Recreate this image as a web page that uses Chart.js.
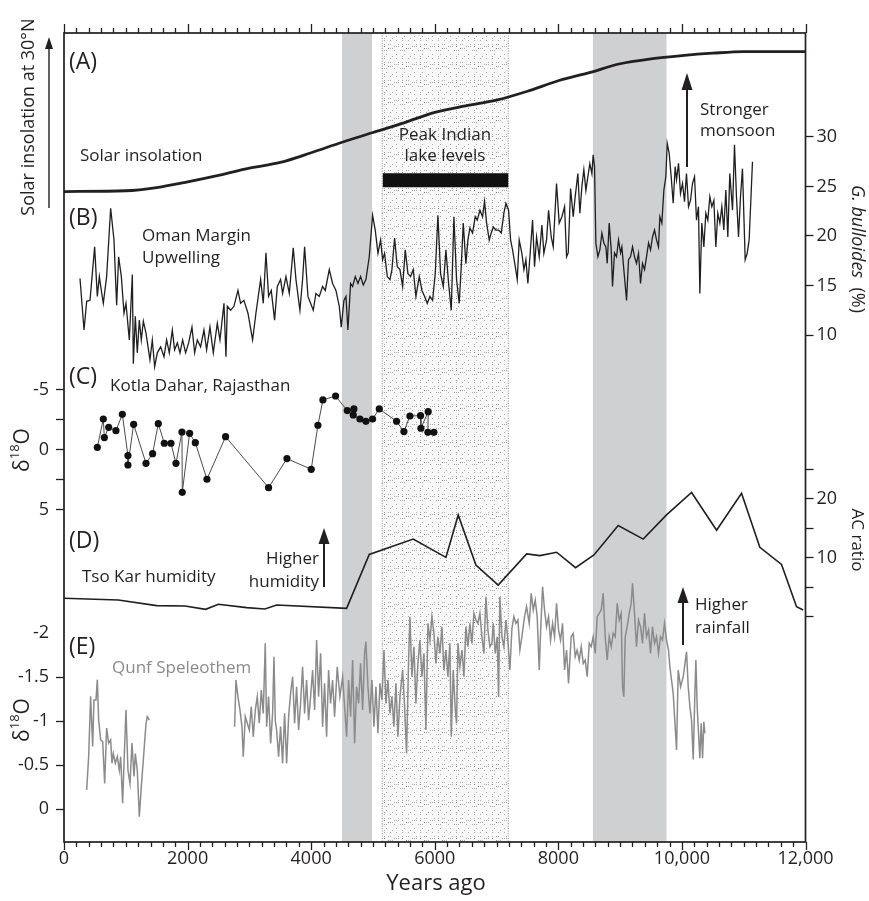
<!DOCTYPE html>
<html>
<head>
<meta charset="utf-8">
<title>Holocene monsoon records</title>
<script src="https://cdn.jsdelivr.net/npm/chart.js@4.4.1/dist/chart.umd.min.js"></script>
<style>
  html, body { margin: 0; padding: 0; background: #fff; }
  #wrap { width: 869px; height: 901px; }
</style>
</head>
<body>
<div id="wrap"><canvas id="holoceneChart" width="869" height="901"></canvas></div>
<script>
/* =================================================================
   Holocene monsoon records, stacked panels on one time axis
   ================================================================= */

const FONT = "'Open Sans', 'Noto Sans', sans-serif";
const INK = '#231f20';
const QUNF_GREY = '#8b8b8b';

// Time axis (years ago)
const xTickValues = [0, 2000, 4000, 6000, 8000, 10000, 12000];

// Shaded intervals
const grayBands = [[4500, 4985], [8560, 9750]];
const lakeBand = [5150, 7190];          // peak Indian lake levels (stippled)
const lakeBarYears = [5160, 7190];
const lakeBarLevel = 81.8;              // on the relative insolation scale

// (A) Solar insolation at 30°N, relative units
const insolation = [
    [0, 80.4], [1000, 80.5], [1500, 80.9], [2000, 81.6], [2500, 82.4], [3000, 83.3],
    [3500, 84.0], [4000, 85.2], [4500, 86.5], [5000, 87.7], [5500, 88.9], [6000, 90.2],
    [6500, 91.0], [7000, 91.7], [7500, 92.8], [8000, 94.1], [8500, 95.1], [9000, 96.2],
    [9500, 96.8], [10000, 97.2], [10500, 97.5], [11000, 97.7], [11500, 97.7], [12000, 97.7]
];

// (B) Oman Margin upwelling, G. bulloides (%)
const bulloides = [
    [259, 15.7], [324, 10.5], [367, 13.4], [421, 13.5], [496, 18.9], [539, 13.9], [572, 15.9],
    [604, 14.5], [636, 13.2], [690, 15.9], [755, 22.8], [809, 19.6], [852, 13.0], [884, 17.9],
    [928, 15.9], [971, 12.2], [1003, 13.2], [1057, 9.5], [1106, 16.1], [1122, 7.1], [1154, 11.9],
    [1186, 8.2], [1219, 11.5], [1251, 9.5], [1284, 11.4], [1327, 10.2], [1391, 7.5], [1429, 9.5],
    [1467, 6.8], [1510, 8.2], [1564, 8.8], [1618, 7.8], [1661, 9.5], [1704, 8.2], [1753, 10.5],
    [1790, 8.5], [1834, 9.2], [1877, 8.2], [1920, 9.5], [1968, 8.2], [2017, 9.2], [2071, 10.8],
    [2114, 8.2], [2157, 9.5], [2211, 8.8], [2265, 10.5], [2308, 8.5], [2362, 10.8], [2416, 8.2],
    [2481, 11.2], [2524, 9.5], [2589, 13.2], [2621, 7.8], [2643, 12.9], [2697, 12.5], [2750, 12.9],
    [2815, 14.5], [2858, 13.2], [2912, 13.5], [2977, 12.2], [3052, 9.5], [3106, 12.2], [3182, 15.6],
    [3225, 13.2], [3268, 18.3], [3311, 13.9], [3354, 14.5], [3408, 11.5], [3452, 14.9], [3505, 15.6],
    [3538, 14.2], [3592, 15.9], [3646, 14.2], [3710, 18.8], [3754, 15.6], [3818, 12.5], [3861, 15.6],
    [3894, 18.9], [3948, 13.9], [3991, 13.2], [4034, 12.5], [4077, 14.2], [4131, 13.9], [4185, 14.9],
    [4228, 14.5], [4293, 16.6], [4347, 15.2], [4401, 14.5], [4455, 12.9], [4487, 10.8], [4530, 13.5],
    [4563, 13.9], [4595, 10.5], [4638, 15.2], [4671, 14.9], [4714, 15.9], [4757, 15.2], [4800, 15.9],
    [4843, 15.05], [4886, 15.6], [4940, 17.9], [4994, 22.1], [5037, 20.6], [5081, 18.25], [5124, 19.6],
    [5156, 17.6], [5188, 18.25], [5232, 15.9], [5275, 15.6], [5307, 16.6], [5350, 19.8], [5393, 16.9],
    [5437, 16.6], [5480, 14.9], [5523, 18.6], [5566, 16.2], [5609, 15.9], [5652, 16.6], [5695, 13.9],
    [5749, 15.9], [5793, 14.5], [5836, 13.9], [5879, 13.2], [5922, 13.9], [5965, 13.5], [6008, 16.2],
    [6051, 22.1], [6094, 16.2], [6138, 14.9], [6181, 18.6], [6224, 15.2], [6267, 12.5], [6310, 21.95],
    [6353, 15.6], [6396, 13.2], [6429, 16.9], [6461, 21.3], [6504, 17.2], [6537, 19.6], [6569, 20.8],
    [6612, 20.3], [6655, 21.95], [6688, 21.6], [6731, 22.6], [6774, 21.95], [6806, 23.5], [6839, 21.3],
    [6882, 19.6], [6914, 20.3], [6947, 20.9], [6990, 20.6], [7033, 20.6], [7076, 20.3], [7119, 22.3],
    [7152, 23.3], [7195, 22.6], [7227, 19.6], [7259, 18.6], [7303, 16.9], [7335, 15.6], [7367, 19.6],
    [7410, 18.25], [7443, 16.6], [7475, 17.6], [7507, 15.2], [7540, 17.9], [7583, 21.6], [7615, 16.9],
    [7648, 19.9], [7691, 17.9], [7734, 21.1], [7766, 18.25], [7809, 19.6], [7842, 22.6], [7885, 19.9],
    [7917, 18.9], [7971, 25.3], [8014, 21.3], [8058, 21.95], [8101, 22.96], [8133, 17.9], [8160, 18.3],
    [8198, 24.8], [8241, 21.95], [8273, 23.97], [8316, 26.3], [8349, 22.3], [8381, 25.0], [8413, 26.7],
    [8446, 24.6], [8478, 26.0], [8510, 27.3], [8543, 26.3], [8564, 28.2], [8586, 27.0], [8607, 19.3],
    [8640, 17.9], [8672, 18.6], [8705, 20.3], [8737, 19.3], [8769, 18.9], [8791, 17.24], [8823, 21.3],
    [8856, 18.6], [8877, 14.9], [8909, 18.3], [8942, 17.9], [8974, 19.6], [9007, 18.3], [9028, 18.9],
    [9060, 16.6], [9104, 13.5], [9136, 17.6], [9168, 17.9], [9201, 18.9], [9233, 17.9], [9265, 17.24],
    [9298, 18.25], [9330, 15.2], [9362, 17.24], [9395, 16.6], [9427, 17.9], [9460, 19.3], [9492, 18.6],
    [9524, 19.9], [9557, 20.6], [9589, 19.6], [9621, 18.9], [9643, 21.95], [9675, 21.3], [9708, 24.65],
    [9740, 26.0], [9762, 29.36], [9794, 28.35], [9826, 26.0], [9859, 23.3], [9891, 27.0], [9913, 25.7],
    [9945, 27.34], [9977, 24.3], [10010, 25.3], [10042, 23.47], [10074, 26.3], [10107, 22.96],
    [10139, 23.6], [10171, 25.3], [10204, 26.0], [10236, 21.6], [10268, 22.96], [10290, 14.2],
    [10322, 21.3], [10355, 18.9], [10387, 22.3], [10419, 21.6], [10452, 23.97], [10484, 22.96],
    [10517, 23.6], [10549, 18.9], [10581, 22.3], [10614, 21.3], [10646, 22.96], [10678, 20.6],
    [10711, 24.65], [10743, 19.9], [10775, 26.3], [10819, 22.6], [10851, 29.2], [10883, 23.97],
    [10916, 19.9], [10948, 23.97], [10980, 26.8], [11024, 17.6], [11056, 18.25], [11088, 19.6],
    [11142, 27.5]
];

// (C) Kotla Dahar, Rajasthan, δ18O (‰)
const kotlaDahar = [
    [539, -0.22], [636, -2.58], [653, -1.03], [723, -1.89], [841, -1.61], [944, -2.97], [1035, 0.47],
    [1035, 1.25], [1127, -2.14], [1327, 1.11], [1434, 0.31], [1526, -2.19], [1623, -0.56], [1731, -0.56],
    [1812, 1.11], [1909, -1.5], [1914, 3.53], [2033, -1.39], [2125, -0.61], [2313, 2.44], [2615, -1.11],
    [3311, 3.14], [3608, 0.72], [4001, 1.61], [4109, -2.06], [4190, -4.17], [4395, -4.5], [4584, -3.28],
    [4692, -3.42], [4681, -2.92], [4789, -2.58], [4886, -2.39], [4994, -2.58], [5102, -3.42], [5382, -2.39],
    [5501, -1.53], [5598, -2.83], [5770, -2.86], [5776, -1.81], [5894, -3.19], [5889, -1.47], [5986, -1.47]
];

// (D) Tso Kar humidity, AC ratio
const tsoKar = [
    [0, 3.17], [879, 2.88], [1500, 1.92], [1958, 1.86], [2292, 1.3], [2497, 2.15], [2956, 1.58],
    [3252, 1.36], [3441, 2.03], [4574, 1.47], [4940, 10.6], [5652, 13.2], [6181, 10.1], [6380, 17.3],
    [6666, 8.8], [7027, 5.4], [7487, 10.7], [7702, 10.4], [7972, 10.97], [8279, 8.36], [8576, 10.5],
    [8969, 15.5], [9374, 13.2], [9751, 17.3], [10156, 21.1], [10561, 14.7], [10965, 20.97],
    [11261, 11.8], [11612, 8.9], [11855, 1.75], [11962, 1.19]
];

// (E) Qunf Cave speleothem, δ18O (‰) - two growth segments
const qunfEarly = [
    [367, -0.216], [399, -0.595], [431, -1.28], [464, -0.71], [485, -1.24], [518, -1.24], [539, -1.47],
    [561, -1.01], [593, -0.785], [626, -0.765], [658, -0.29], [690, -0.92], [723, -0.75], [755, -0.785],
    [777, -0.52], [798, -0.63], [831, -0.52], [863, -0.595], [895, -0.44], [917, -0.595], [949, -0.065],
    [971, -0.52], [1003, -1.125], [1035, -0.44], [1068, -0.29], [1100, -0.75], [1133, -0.37],
    [1154, -0.63], [1186, -0.44], [1219, 0.087], [1251, -0.254], [1284, -0.56], [1327, -0.97],
    [1348, -1.05], [1381, -1.01]
];
const qunfLate = [
    [2761, -0.936], [2783, -1.466], [2815, -1.277], [2848, -1.125], [2880, -0.936], [2901, -0.595],
    [2934, -1.05], [2966, -0.974], [2999, -0.898], [3031, -1.163], [3063, -0.822], [3096, -1.125],
    [3128, -1.277], [3160, -0.974], [3193, -1.352], [3225, -1.087], [3257, -1.883], [3279, -0.936],
    [3311, -1.277], [3344, -0.746], [3376, -1.087], [3398, -1.73], [3420, -1.0], [3441, -0.898],
    [3473, -0.595], [3505, -0.936], [3538, -0.519], [3570, -1.087], [3603, -0.519], [3635, -1.05],
    [3667, -1.314], [3700, -1.504], [3732, -0.974], [3764, -1.39], [3797, -0.898], [3829, -1.2],
    [3861, -1.617], [3894, -1.087], [3926, -1.466], [3958, -1.01], [3991, -1.277], [4023, -1.58],
    [4056, -1.125], [4088, -1.92], [4120, -1.277], [4153, -1.77], [4185, -0.936], [4217, -1.428],
    [4250, -0.822], [4282, -1.58], [4314, -1.2], [4347, -1.466], [4379, -1.05], [4422, -1.617],
    [4465, -1.277], [4509, -1.504], [4541, -1.163], [4574, -0.822], [4606, -1.466], [4638, -1.05],
    [4671, -1.693], [4703, -0.746], [4735, -1.39], [4768, -1.2], [4800, -1.655], [4833, -1.125],
    [4865, -1.769], [4886, -1.902], [4919, -1.39], [4951, -1.087], [4984, -1.466], [5016, -0.936],
    [5048, -1.39], [5081, -0.86], [5113, -1.428], [5145, -1.239], [5178, -1.807], [5210, -1.2],
    [5242, -1.466], [5275, -1.087], [5307, -1.277], [5339, -0.936], [5372, -1.428], [5404, -0.822],
    [5437, -1.277], [5480, -1.58], [5512, -1.163], [5544, -0.633], [5577, -1.693], [5598, -2.186],
    [5631, -1.504], [5663, -1.845], [5695, -1.2], [5728, -1.655], [5760, -1.92], [5792, -1.504],
    [5825, -1.769], [5857, -0.898], [5890, -2.11], [5922, -1.92], [5954, -2.186], [5987, -1.996],
    [6019, -1.655], [6051, -1.958], [6084, -1.769], [6116, -2.072], [6148, -1.58], [6181, -1.807],
    [6213, -1.504], [6245, -1.883], [6267, -0.822], [6299, -1.58], [6332, -1.125], [6353, -0.974],
    [6375, -1.883], [6407, -1.617], [6440, -1.807], [6472, -1.504], [6504, -2.072], [6537, -1.845],
    [6569, -2.11], [6601, -1.883], [6634, -2.224], [6666, -2.148], [6698, -2.11], [6731, -2.224],
    [6763, -1.958], [6796, -1.769], [6828, -2.413], [6860, -2.034], [6893, -1.845], [6925, -1.883],
    [6947, -2.11], [6979, -1.769], [7011, -1.958], [7033, -1.277], [7054, -2.413], [7087, -1.958],
    [7119, -1.845], [7152, -2.148], [7184, -1.92], [7216, -1.58], [7249, -2.053], [7281, -2.186],
    [7313, -2.11], [7346, -2.148], [7378, -1.807], [7410, -1.958], [7453, -2.186], [7486, -2.3],
    [7529, -2.11], [7561, -2.451], [7594, -2.262], [7626, -2.375], [7658, -2.186], [7691, -1.58],
    [7712, -1.996], [7745, -2.527], [7777, -2.262], [7809, -2.072], [7842, -2.186], [7874, -1.92],
    [7907, -2.11], [7939, -1.958], [7971, -2.337], [8004, -2.034], [8036, -1.92], [8068, -2.11],
    [8101, -1.58], [8133, -1.807], [8165, -1.428], [8208, -1.958], [8241, -1.996], [8273, -1.731],
    [8305, -1.807], [8338, -1.693], [8370, -1.845], [8403, -1.655], [8435, -1.693], [8467, -1.504],
    [8500, -1.883], [8532, -1.845], [8564, -1.958], [8597, -1.769], [8629, -2.186], [8661, -2.224],
    [8694, -2.262], [8726, -2.451], [8758, -1.958], [8791, -1.693], [8823, -1.958], [8856, -1.845],
    [8888, -1.996], [8920, -1.958], [8953, -2.337], [8985, -2.148], [9017, -2.224], [9039, -1.39],
    [9060, -1.277], [9082, -1.958], [9114, -2.072], [9147, -2.224], [9179, -2.337], [9201, -2.564],
    [9233, -2.224], [9265, -1.845], [9298, -2.148], [9330, -2.072], [9362, -1.883], [9395, -2.224],
    [9427, -1.958], [9460, -2.034], [9492, -1.769], [9524, -2.072], [9557, -1.883], [9589, -1.958],
    [9621, -1.769], [9654, -1.958], [9686, -1.92], [9718, -2.11], [9751, -1.92], [9783, -1.807],
    [9805, -1.617], [9859, -1.314], [9913, -0.67], [9940, -1.58], [9978, -1.39], [10021, -1.504],
    [10075, -1.788], [10102, -1.39], [10129, -1.163], [10156, -1.01], [10183, -0.564], [10210, -1.314],
    [10226, -1.693], [10247, -1.163], [10269, -0.86], [10290, -0.576], [10312, -0.973], [10334, -0.576],
    [10355, -0.992], [10371, -0.86]
];

// Tick values on the data axes
const bulloidesTicks = [10, 15, 20, 25, 30];
const acRatioTicks = [0, 5, 10, 15, 20, 25];
const acRatioLabels = [10, 20];
const kotlaTicks = [-5, -2.5, 0, 2.5, 5];
const kotlaLabels = [-5, 0, 5];
const qunfTicks = [-2, -1.5, -1, -0.5, 0];

// Annotations (canvas pixels)
const labels = [
    { text: '(A)', x: 69, y: 62, size: 23 },
    { text: 'Solar insolation', x: 80, y: 156 },
    { text: '(B)', x: 69, y: 218, size: 23 },
    { text: 'Oman Margin', x: 142, y: 236 },
    { text: 'Upwelling', x: 142, y: 258 },
    { text: 'Peak Indian', x: 445, y: 135, align: 'center' },
    { text: 'lake levels', x: 445, y: 156, align: 'center' },
    { text: 'Stronger', x: 700, y: 110 },
    { text: 'monsoon', x: 700, y: 131 },
    { text: '(C)', x: 69, y: 377, size: 23 },
    { text: 'Kotla Dahar, Rajasthan', x: 110, y: 386 },
    { text: '(D)', x: 69, y: 541, size: 23 },
    { text: 'Tso Kar humidity', x: 82, y: 577 },
    { text: 'Higher', x: 319, y: 559, align: 'right' },
    { text: 'humidity', x: 319, y: 582, align: 'right' },
    { text: '(E)', x: 69, y: 647, size: 23 },
    { text: 'Qunf Speleothem', x: 112, y: 668, color: QUNF_GREY },
    { text: 'Higher', x: 695, y: 605 },
    { text: 'rainfall', x: 695, y: 628 },
    { text: 'Years ago', x: 436, y: 884, size: 22, align: 'center' }
];

const arrows = [
    { x: 49, from: 208, to: 37, head: 12, half: 4, width: 1.4 },
    { x: 687, from: 167, to: 73, head: 17, half: 5.5, width: 2 },
    { x: 324, from: 587, to: 528, head: 16, half: 5.5, width: 2 },
    { x: 683, from: 645, to: 587, head: 16, half: 5.5, width: 2 }
];

// Tick labels of the two inner (zero-width) axes, drawn by the plugin
const innerAxisLabels = [
    { axis: 'yD', values: acRatioLabels, side: 'right' },
    { axis: 'yE', values: qunfTicks, side: 'left' }
];

function toPoints(pairs) {
    return pairs.map(([x, y]) => ({ x, y }));
}

function fixedTicks(values) {
    return scale => { scale.ticks = values.map(v => ({ value: v })); };
}

// Small stipple tile for the lake-level interval
function stipplePattern(ctx) {
    const tile = document.createElement('canvas');
    tile.width = 18;
    tile.height = 18;
    const t = tile.getContext('2d');
    t.fillStyle = 'rgba(80, 80, 80, 0.45)';
    let seed = 7;
    for (let i = 0; i < 24; i++) {
        seed = (seed * 1103515245 + 12345) % 2147483648;
        const px = seed % 18;
        seed = (seed * 1103515245 + 12345) % 2147483648;
        const py = seed % 18;
        t.fillRect(px, py, 1, 1);
    }
    return ctx.createPattern(tile, 'repeat');
}

function drawRotated(ctx, parts, cx, cy, angle) {
    ctx.save();
    ctx.translate(cx, cy);
    ctx.rotate(angle);
    ctx.textBaseline = 'alphabetic';
    ctx.textAlign = 'left';
    let total = 0;
    parts.forEach(p => { ctx.font = p.font; p.w = ctx.measureText(p.text).width; total += p.w; });
    let x = -total / 2;
    parts.forEach(p => {
        ctx.font = p.font;
        ctx.fillStyle = INK;
        ctx.fillText(p.text, x, p.dy);
        x += p.w;
    });
    ctx.restore();
}

function deltaTitle(ctx, cx, cy) {
    drawRotated(ctx, [
        { text: 'δ', font: `21px ${FONT}`, dy: 7 },
        { text: '18', font: `13px ${FONT}`, dy: -3 },
        { text: 'O', font: `21px ${FONT}`, dy: 7 }
    ], cx, cy, -Math.PI / 2);
}

const figurePlugin = {
    id: 'figureDecor',
    beforeDatasetsDraw(chart) {
        const { ctx, chartArea: a, scales: { x } } = chart;
        ctx.save();
        ctx.fillStyle = '#cfd0d2';
        grayBands.forEach(([s, e]) => {
            const x0 = x.getPixelForValue(s);
            const x1 = x.getPixelForValue(e);
            ctx.fillRect(x0, a.top, x1 - x0, a.bottom - a.top);
        });
        const l0 = x.getPixelForValue(lakeBand[0]);
        const l1 = x.getPixelForValue(lakeBand[1]);
        ctx.fillStyle = '#f8f8f8';
        ctx.fillRect(l0, a.top, l1 - l0, a.bottom - a.top);
        ctx.fillStyle = stipplePattern(ctx);
        ctx.fillRect(l0, a.top, l1 - l0, a.bottom - a.top);
        ctx.strokeStyle = '#8f8f8f';
        ctx.lineWidth = 1;
        ctx.setLineDash([1, 1.5]);
        [l0, l1].forEach(px => {
            ctx.beginPath();
            ctx.moveTo(px, a.top);
            ctx.lineTo(px, a.bottom);
            ctx.stroke();
        });
        ctx.restore();
    },
    afterDatasetsDraw(chart) {
        const { ctx } = chart;
        ctx.save();
        ctx.textBaseline = 'middle';
        labels.forEach(l => {
            ctx.font = `${l.size || 17}px ${FONT}`;
            ctx.fillStyle = l.color || INK;
            ctx.textAlign = l.align || 'left';
            ctx.fillText(l.text, l.x, l.y);
        });
        ctx.strokeStyle = INK;
        ctx.fillStyle = INK;
        arrows.forEach(ar => {
            ctx.lineWidth = ar.width;
            ctx.beginPath();
            ctx.moveTo(ar.x, ar.from);
            ctx.lineTo(ar.x, ar.to + ar.head - 1);
            ctx.stroke();
            ctx.beginPath();
            ctx.moveTo(ar.x, ar.to);
            ctx.lineTo(ar.x - ar.half, ar.to + ar.head);
            ctx.lineTo(ar.x + ar.half, ar.to + ar.head);
            ctx.closePath();
            ctx.fill();
        });

        // Axis titles
        drawRotated(ctx, [{ text: 'Solar insolation at 30°N', font: `18px ${FONT}`, dy: 6.5 }],
            27, 117, -Math.PI / 2);
        drawRotated(ctx, [
            { text: 'G. bulloides', font: `italic 18px ${FONT}`, dy: 6.5 },
            { text: '  (%)', font: `18px ${FONT}`, dy: 6.5 }
        ], 858, 249, Math.PI / 2);
        drawRotated(ctx, [{ text: 'AC ratio', font: `17px ${FONT}`, dy: 6 }], 858, 540, Math.PI / 2);
        deltaTitle(ctx, 22, 450);
        deltaTitle(ctx, 22, 720);
        ctx.restore();
    },
    afterDraw(chart) {
        const { ctx, chartArea: a, scales } = chart;
        const x = scales.x;
        ctx.save();
        ctx.strokeStyle = INK;
        ctx.lineWidth = 1.3;
        for (let v = 0; v <= 12000; v += 200) {
            const px = Math.round(x.getPixelForValue(v)) + 0.5;
            const major = v % 2000 === 0;
            ctx.beginPath();
            ctx.moveTo(px, a.top);
            ctx.lineTo(px, a.top - (major ? 9 : 5));
            ctx.moveTo(px, a.bottom);
            ctx.lineTo(px, a.bottom + (major ? 8 : 5));
            ctx.stroke();
        }
        ctx.lineWidth = 1.7;
        ctx.strokeRect(a.left, a.top, a.right - a.left, a.bottom - a.top);

        ctx.font = `18px ${FONT}`;
        ctx.fillStyle = INK;
        ctx.textBaseline = 'middle';
        innerAxisLabels.forEach(group => {
            const s = scales[group.axis];
            ctx.textAlign = group.side === 'right' ? 'left' : 'right';
            const tx = group.side === 'right' ? a.right + 11 : a.left - 15;
            group.values.forEach(v => ctx.fillText(String(v), tx, s.getPixelForValue(v)));
        });
        ctx.restore();
    }
};

const tickFont = { family: FONT, size: 18 };
const sideGrid = { drawOnChartArea: false, drawTicks: true, tickLength: 8, tickColor: INK, tickWidth: 1.3 };

const ctx = document.getElementById('holoceneChart').getContext('2d');

new Chart(ctx, {
    type: 'line',
    data: {
        datasets: [
            {
                label: 'Solar insolation',
                data: toPoints(insolation),
                yAxisID: 'yA',
                borderColor: INK,
                borderWidth: 2.8,
                pointRadius: 0,
                cubicInterpolationMode: 'monotone'
            },
            {
                label: 'Peak Indian lake levels',
                data: toPoints(lakeBarYears.map(y => [y, lakeBarLevel])),
                yAxisID: 'yA',
                borderColor: '#111',
                borderWidth: 14,
                borderCapStyle: 'butt',
                pointRadius: 0
            },
            {
                label: 'Oman Margin upwelling',
                data: toPoints(bulloides),
                yAxisID: 'yB',
                borderColor: '#1f1f1f',
                borderWidth: 1.3,
                pointRadius: 0,
                tension: 0
            },
            {
                label: 'Kotla Dahar',
                data: toPoints(kotlaDahar),
                yAxisID: 'yC',
                borderColor: '#4a4a4a',
                borderWidth: 1,
                pointRadius: 3.6,
                pointBackgroundColor: '#111',
                pointBorderWidth: 0,
                tension: 0
            },
            {
                label: 'Tso Kar humidity',
                data: toPoints(tsoKar),
                yAxisID: 'yD',
                borderColor: '#1f1f1f',
                borderWidth: 1.6,
                pointRadius: 0,
                tension: 0
            },
            {
                label: 'Qunf early',
                data: toPoints(qunfEarly),
                yAxisID: 'yE',
                borderColor: QUNF_GREY,
                borderWidth: 1.5,
                pointRadius: 0,
                tension: 0
            },
            {
                label: 'Qunf late',
                data: toPoints(qunfLate),
                yAxisID: 'yE',
                borderColor: QUNF_GREY,
                borderWidth: 1.5,
                pointRadius: 0,
                tension: 0
            }
        ]
    },
    options: {
        responsive: false,
        animation: false,
        layout: { padding: { top: 33, left: 0, right: 0, bottom: 0 } },
        plugins: { legend: { display: false }, tooltip: { enabled: false } },
        scales: {
            x: {
                type: 'linear',
                position: 'bottom',
                min: 0,
                max: 12000,
                afterFit: s => { s.height = 59; },
                afterBuildTicks: fixedTicks(xTickValues),
                grid: { display: false, drawTicks: false },
                border: { display: false },
                ticks: {
                    padding: 6,
                    color: INK,
                    font: tickFont,
                    maxRotation: 0,
                    callback: v => v >= 10000 ? `${v / 1000},000` : String(v)
                }
            },
            yA: { type: 'linear', display: false, min: 0, max: 100 },
            yB: {
                type: 'linear',
                position: 'right',
                weight: 1,
                min: -41.2,
                max: 40.5,
                afterFit: s => { s.width = 63.5; },
                afterBuildTicks: fixedTicks(bulloidesTicks),
                grid: sideGrid,
                border: { display: false },
                ticks: { padding: 3, color: INK, font: tickFont, callback: v => String(v) }
            },
            yD: {
                type: 'linear',
                position: 'right',
                weight: 0,
                min: -38.14,
                max: 98.98,
                afterFit: s => { s.width = 0; },
                afterBuildTicks: fixedTicks(acRatioTicks),
                grid: sideGrid,
                border: { display: false },
                ticks: { display: false }
            },
            yC: {
                type: 'linear',
                position: 'left',
                weight: 1,
                reverse: true,
                min: -34.75,
                max: 32.67,
                afterFit: s => { s.width = 64; },
                afterBuildTicks: fixedTicks(kotlaTicks),
                grid: sideGrid,
                border: { display: false },
                ticks: {
                    padding: 7, color: INK, font: tickFont,
                    callback: v => kotlaLabels.includes(v) ? String(v) : ''
                }
            },
            yE: {
                type: 'linear',
                position: 'left',
                weight: 0,
                reverse: true,
                min: -8.82,
                max: 0.375,
                afterFit: s => { s.width = 0; },
                afterBuildTicks: fixedTicks(qunfTicks),
                grid: {
                    drawOnChartArea: false, drawTicks: true, tickLength: 8, tickWidth: 1.3,
                    tickColor: c => (c.tick && c.tick.value === -2) ? 'rgba(0,0,0,0)' : INK
                },
                border: { display: false },
                ticks: { display: false }
            }
        }
    },
    plugins: [figurePlugin]
});
</script>
</body>
</html>
